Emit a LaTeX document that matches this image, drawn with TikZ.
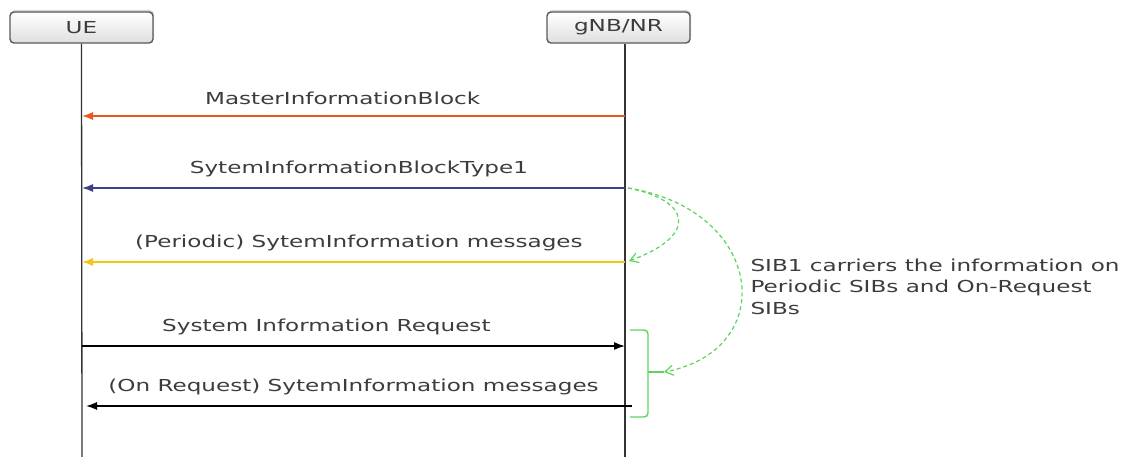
\documentclass[tikz,border=0pt]{standalone}
\usepackage{fontspec}
\setmainfont{DejaVu Sans}[FakeStretch=1.4]
\usetikzlibrary{arrows.meta,shadows}
\definecolor{txtgray}{HTML}{3C3C3C}
\definecolor{mibred}{HTML}{EE5522}
\definecolor{sibblue}{HTML}{404088}
\definecolor{periyellow}{HTML}{F5C518}
\definecolor{notegreen}{HTML}{5CD45C}
\tikzset{
  entity/.style={rectangle,rounded corners=4,draw=gray!70!black,line width=1.4,
    top color=white,bottom color=gray!25,minimum width=143,minimum height=31,
    drop shadow={shadow xshift=1,shadow yshift=-2,opacity=.3},text=txtgray},
  lifeline/.style={draw,line width=1.3,black!80},
  msg/.style={line width=1.3,-{Latex[length=11,width=8]}},
  msglabel/.style={above=7,text=txtgray},
  hint/.style={notegreen,line width=1.2,dash pattern=on 4 off 3,-{Straight Barb[length=8,width=10]}}
}
\begin{document}
\begin{tikzpicture}[x=1pt,y=-1pt,every node/.style={font=\fontsize{16.5}{21.5}\selectfont}]
  \useasboundingbox (0,0) rectangle (1129,457);

  \begin{scope}[every node/.style={entity,font=\fontsize{16.5}{20}\selectfont}]
    \node (ue)  at (81.5,27.5) {UE};
    \node (gnb) at (618.5,27.5) {gNB/NR};
  \end{scope}

  \coordinate (ueend)  at (82,457);
  \coordinate (gnbend) at (625,457);
  \path[lifeline] (ue.south) -- (ueend);
  \path[lifeline] ([xshift=6.5]gnb.south) -- (gnbend);

  \coordinate (g1) at (625,116);  \coordinate (u1) at (82,116);
  \coordinate (g2) at (625,188);  \coordinate (u2) at (82,188);
  \coordinate (g3) at (625,262);  \coordinate (u3) at (82,262);
  \coordinate (u4) at (82,346);   \coordinate (g4) at (625,346);
  \coordinate (g5) at (632,406);  \coordinate (u5) at (86,406);

  \draw[msg,mibred]     (g1) -- node[msglabel,pos=.52] {MasterInformationBlock} (u1);
  \draw[msg,sibblue]    (g2) -- node[msglabel,pos=.49] {SytemInformationBlockType1} (u2);
  \draw[msg,periyellow] (g3) -- node[msglabel,pos=.49] {(Periodic) SytemInformation messages} (u3);
  \draw[msg,black]      (u4) -- node[msglabel,pos=.45] {System Information Request} (g4);
  \draw[msg,black]      (g5) -- node[msglabel,pos=.51] {(On Request) SytemInformation messages} (u5);

  \coordinate (bt) at (630,330);
  \coordinate (bb) at (630,417);
  \coordinate (bm) at (664,372);
  \draw[notegreen,line width=1.4,rounded corners=4]
    (bt) -- (648,330) -- (648,417) -- (bb);
  \draw[notegreen,line width=1.4] (648,372) -- (bm);

  \coordinate (h0) at (628,188);
  \coordinate (h1) at (629,261);
  \draw[hint] (h0) .. controls (690,200) and (700,235) .. (h1);
  \draw[hint] (h0) .. controls (765,210) and (780,350) .. (bm);

  \node[anchor=base west,align=left,text=txtgray] (note) at (747,314)
    {SIB1 carriers the information on\\Periodic SIBs and On-Request\\SIBs};
\end{tikzpicture}
\end{document}
